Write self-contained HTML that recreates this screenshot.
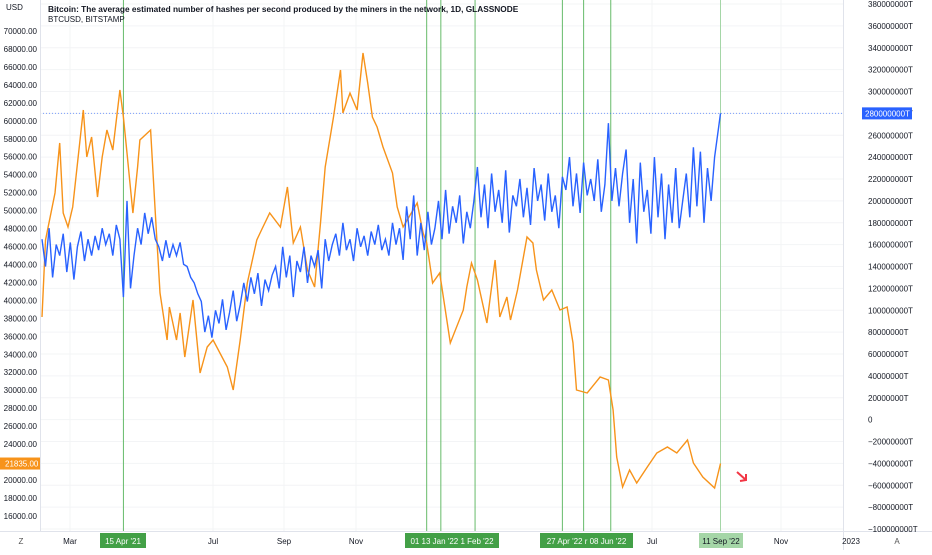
<!DOCTYPE html>
<html><head><meta charset="utf-8"><style>
body{margin:0;background:#fff;font-family:"Liberation Sans",sans-serif}
svg text{font-family:"Liberation Sans",sans-serif}
</style></head><body>
<svg id="c" width="932" height="550" xmlns="http://www.w3.org/2000/svg">
</svg>
<script>
const btcDays=[0,3,11,15,18,22,26,35,38,42,47,51,55,60,66,69,72,77,81,83,92,96,100,106,108,114,117,121,128,134,140,145,157,162,168,174,182,186,193,202,208,213,219,225,231,236,240,247,253,255,261,267,272,276,280,284,289,297,301,306,318,323,326,331,337,346,357,360,364,369,377,384,388,394,397,403,411,416,419,425,432,439,445,450,453,462,473,480,484,487,492,498,504,513,521,530,538,547,552,560,570,575];
const btcPrice=[38150,46720,51960,57530,49730,48170,50400,61200,55970,58200,51520,55970,58980,56750,63430,60420,56410,49730,54860,57860,58980,49730,40830,35590,39260,35590,38600,33700,40040,31920,34810,35590,32580,30020,35590,41940,46730,47840,49730,48170,52630,46390,48170,43380,41490,48620,54860,60420,65660,60870,63090,61200,67550,64210,60420,59310,57080,54190,50400,48170,50850,47510,46390,41940,43050,35260,38930,41490,44170,42270,37480,44500,38150,40380,37820,41160,47060,46390,43380,40040,41160,38930,39260,35260,30020,29690,31470,31140,27800,22560,19220,21110,19670,21450,23010,23680,23010,24450,21890,20330,19110,21835];
const hashRate=[165,140,175,130,160,150,170,135,162,128,158,172,145,165,150,168,155,175,160,170,150,178,165,
112,200,120,150,
175,160,189,170,185,165,
158,145,164,148,160,150,162,142,
140,130,125,115,108,
80,95,75,100,88,110,82,98,118,90,105,
125,108,130,115,134,104,128,118,132,
140,120,158,130,150,112,145,135,158,125,150,140,155,120,165,145,160,
170,150,180,155,165,145,175,158,168,150,172,160,178,155,165,150,180,160,175,
146,195,165,205,150,180,155,190,160,
175,200,165,210,170,195,180,205,161,190,175,
200,231,185,215,175,225,190,210,180,228,171,205,195,220,185,212,178,230,200,215,182,225,190,205,175,222,
210,240,195,225,189,235,205,220,200,238,190,215,271,200,230,195,225,
247,180,220,161,235,190,210,170,240,185,225,165,215,180,230,175,
200,225,185,249,195,245,180,230,
200,240,280];
const hashStep=3;
const priceTicks=[70000,68000,66000,64000,62000,60000,58000,56000,54000,52000,50000,48000,46000,44000,42000,40000,38000,36000,34000,32000,30000,28000,26000,24000,22000,20000,18000,16000];
const hashTicks=[380,360,340,320,300,280,260,240,220,200,180,160,140,120,100,80,60,40,20,0,-20,-40,-60,-80,-100];
const monthLabels=["Mar","Jul","Sep","Nov","Jul","Nov","2023"];
const monthX=[70,213,284,356,652,781,851];
const eventDays=[69,326,338,367,441,459,482,575];
const eventLabels=[["15 Apr '21",100,146],["01  13 Jan '22  1 Feb '22",405,499],["27 Apr '22  r  08 Jun '22",540,633]];

const NS="http://www.w3.org/2000/svg";
const svg=document.getElementById('c');
function mk(t,a,p){const e=document.createElementNS(NS,t);for(const k in a)e.setAttribute(k,a[k]);(p||svg).appendChild(e);return e;}
const xS=d=>42+d*1.18;
const yP=p=>31+(70000-p)/2000*17.96;
const yH=h=>4+(380-h)*1.09375;

// grid
for(const h of hashTicks){const g=mk('line',{x1:40,x2:843,y1:yH(h),y2:yH(h),stroke:'#f3f4f6'});}
for(const x of monthX.slice(0,6)){const g=mk('line',{x1:x,x2:x,y1:0,y2:531,stroke:'#f3f4f6'});}
// event lines
eventDays.forEach((d,i)=>{const l=mk('line',{x1:xS(d),x2:xS(d),y1:0,y2:531,stroke:i==7?'#a5d6a7':'#66bb6a','stroke-width':1});});
// dotted line
const dl=mk('line',{x1:40,x2:843,y1:yH(280),y2:yH(280),stroke:'#2962ff','stroke-dasharray':'1,2','stroke-opacity':0.6});

// series
let d='';btcDays.forEach((v,i)=>{d+=(i?'L':'M')+xS(v).toFixed(1)+','+yP(btcPrice[i]).toFixed(1);});
const b=mk('path',{d:d,fill:'none',stroke:'#f7931a','stroke-width':1.4});

d='';hashRate.forEach((v,i)=>{const dd=i==hashRate.length-1?575:i*hashStep;d+=(i?'L':'M')+xS(dd).toFixed(1)+','+yH(v).toFixed(1);});
const hl=mk('path',{d:d,fill:'none',stroke:'#2962ff','stroke-width':1.4});

// axes borders
mk('line',{x1:40.5,x2:40.5,y1:0,y2:531,stroke:'#e0e3eb'});
mk('line',{x1:843.5,x2:843.5,y1:0,y2:550,stroke:'#e0e3eb'});
mk('line',{x1:0,x2:932,y1:531.5,y2:531.5,stroke:'#e0e3eb'});
// left ticks
for(const p of priceTicks){const t=mk('text',{x:37,y:yP(p)+3,'font-size':8,'text-anchor':'end',fill:'#131722'});t.textContent=p.toFixed(2);}
const u=mk('text',{x:6,y:10,'font-size':8,fill:'#131722'});u.textContent='USD';
// right ticks
for(const h of hashTicks){const t=mk('text',{x:868,y:yH(h)+3,'font-size':8,fill:'#131722'});t.textContent=h==0?'0':(h<0?'\u2212':'')+Math.abs(h)+'000000T';}
// labels boxes
mk('rect',{x:862,y:yH(280)-6,width:50,height:12,fill:'#2962ff'});
let t=mk('text',{x:865,y:yH(280)+3,'font-size':8,fill:'#fff'});t.textContent='280000000T';
mk('rect',{x:0,y:yP(21835)-6,width:40,height:12,fill:'#f7931a'});
t=mk('text',{x:5,y:yP(21835)+3,'font-size':8,fill:'#fff'});t.textContent='21835.00';
// month labels
monthLabels.forEach((m,i)=>{const e=mk('text',{x:monthX[i],y:544,'font-size':8,'text-anchor':'middle',fill:'#131722'});e.textContent=m;});
eventLabels.forEach(e=>{mk('rect',{x:e[1],y:533,width:e[2]-e[1],height:15,fill:'#43a047'});const tx=mk('text',{x:(e[1]+e[2])/2,y:544,'font-size':8,'text-anchor':'middle',fill:'#fff'});tx.textContent=e[0];});
mk('rect',{x:699,y:533,width:44,height:15,fill:'#a5d6a7'});
t=mk('text',{x:721,y:544,'font-size':8,'text-anchor':'middle',fill:'#131722'});t.textContent="11 Sep '22";
t=mk('text',{x:21,y:544,'font-size':8,'text-anchor':'middle',fill:'#555'});t.textContent='Z';
t=mk('text',{x:897,y:544,'font-size':8,'text-anchor':'middle',fill:'#555'});t.textContent='A';
// titles
t=mk('text',{x:48,y:12,'font-size':8.3,'font-weight':'bold',fill:'#131722'});t.textContent='Bitcoin: The average estimated number of hashes per second produced by the miners in the network, 1D, GLASSNODE';
t=mk('text',{x:48,y:22,'font-size':8,fill:'#131722'});t.textContent='BTCUSD, BITSTAMP';
// red arrow
const ar=mk('g',{stroke:'#f23645','stroke-width':2,fill:'none'});
mk('path',{d:'M737,472 L746,480 M740,481 L746,480 L746,474'},ar);

</script>
</body></html>
